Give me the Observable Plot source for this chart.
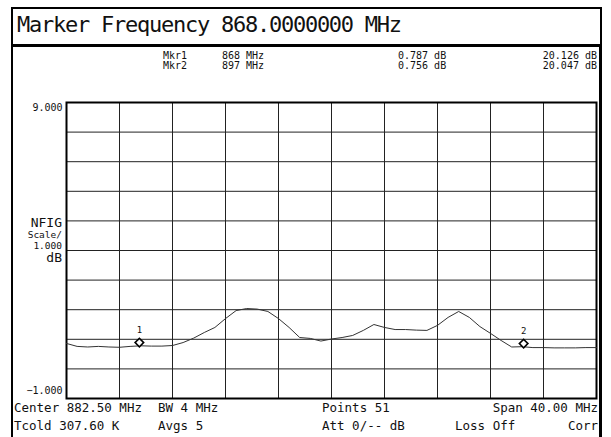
<!DOCTYPE html>
<html>
<head>
<meta charset="utf-8">
<script src="https://cdn.jsdelivr.net/npm/d3@7"></script>
<script src="https://cdn.jsdelivr.net/npm/@observablehq/plot@0.6"></script>
<style>
  body { margin: 0; background: #fff; }
  #wrap { position: relative; width: 611px; height: 437px; overflow: hidden; font-family: "DejaVu Sans Mono", monospace; color: #111; }
  #wrap svg { position: absolute; left: 0; top: 0; }
  .t { position: absolute; white-space: pre; line-height: 1; }
  .box { position: absolute; box-sizing: border-box; }
</style>
</head>
<body>
<div id="wrap"></div>
<script>
// Sweep frequencies (MHz), 51 points, center 882.50 MHz, span 40 MHz
const freqs = [862.5, 863.3, 864.1, 864.9, 865.7, 866.5, 867.3, 868.1, 868.9, 869.7,
  870.5, 871.3, 872.1, 872.9, 873.7, 874.5, 875.3, 876.1, 876.9, 877.7,
  878.5, 879.3, 880.1, 880.9, 881.7, 882.5, 883.3, 884.1, 884.9, 885.7,
  886.5, 887.3, 888.1, 888.9, 889.7, 890.5, 891.3, 892.1, 892.9, 893.7,
  894.5, 895.3, 896.1, 896.9, 897.7, 898.5, 899.3, 900.1, 900.9, 901.7, 902.5];
// Noise figure trace (dB)
const nfig = [0.86, 0.76, 0.74, 0.76, 0.74, 0.73, 0.76, 0.78, 0.77, 0.77,
  0.79, 0.89, 1.04, 1.23, 1.40, 1.70, 1.97, 2.04, 2.02, 1.94,
  1.70, 1.40, 1.06, 1.03, 0.94, 1.01, 1.06, 1.13, 1.30, 1.50,
  1.40, 1.33, 1.33, 1.31, 1.30, 1.47, 1.74, 1.94, 1.74, 1.43,
  1.20, 0.96, 0.74, 0.75, 0.72, 0.72, 0.71, 0.71, 0.71, 0.72, 0.72];
// Markers
const markerNames = ["1", "2"];
const markerFreqs = [868, 897];
const markerNF = [0.787, 0.756];
const markerGain = [20.126, 20.047];
// Axis
const xDomain = [862.5, 902.5];
const yDomain = [-1, 9];
const xGridTicks = [862.5, 866.5, 870.5, 874.5, 878.5, 882.5, 886.5, 890.5, 894.5, 898.5, 902.5];
const yGridTicks = [-1, 0, 1, 2, 3, 4, 5, 6, 7, 8, 9];

const trace = freqs.map((f, i) => ({f, v: nfig[i]}));
const markers = markerNames.map((n, i) => ({n, f: markerFreqs[i], v: markerNF[i]}));

const chart = Plot.plot({
  width: 611,
  height: 437,
  marginLeft: 66,
  marginRight: 15,
  marginTop: 102,
  marginBottom: 39,
  x: {domain: xDomain, axis: null},
  y: {domain: yDomain, axis: null},
  style: {background: "transparent", fontFamily: "DejaVu Sans Mono"},
  marks: [
    Plot.ruleX(xGridTicks, {stroke: "#222", strokeWidth: 1}),
    Plot.ruleY(yGridTicks, {stroke: "#222", strokeWidth: 1}),
    Plot.frame({stroke: "#000", strokeWidth: 2}),
    Plot.line(trace, {x: "f", y: "v", stroke: "#333", strokeWidth: 1}),
    Plot.dot(markers, {x: "f", y: "v", symbol: "square", rotate: 45, r: 3.4, stroke: "#000", fill: "#fff", strokeWidth: 1.6, dy: -3}),
    Plot.text(markers, {x: "f", y: "v", text: "n", dy: -15, fontSize: 9, fill: "#111"}),
    Plot.text([yDomain[1]], {y: d => d, frameAnchor: "left", text: d => d3.format(".3f")(d), textAnchor: "end", dx: -4, dy: 5, fontSize: 10, fill: "#111"}),
    Plot.text([yDomain[0]], {y: d => d, frameAnchor: "left", text: d => d3.format(".3f")(d), textAnchor: "end", dx: -4, dy: -8, fontSize: 10, fill: "#111"})
  ]
});

const wrap = document.getElementById("wrap");
wrap.appendChild(chart);

function box(l, t, w, h, css) {
  const d = document.createElement("div");
  d.className = "box";
  Object.assign(d.style, {left: l + "px", top: t + "px", width: w + "px", height: h + "px"}, css);
  wrap.appendChild(d);
}
function txt(s, css) {
  const d = document.createElement("div");
  d.className = "t";
  d.textContent = s;
  Object.assign(d.style, css);
  wrap.appendChild(d);
}

// frames
box(11, 7, 591, 40, {border: "2px solid #000", borderBottom: "3px solid #000"});
box(11, 46, 591, 400, {borderLeft: "2px solid #000", borderRight: "3px solid #000"});

// title
txt("Marker Frequency " + d3.format(".7f")(markerFreqs[0]) + " MHz", {left: "17px", top: "14px", fontSize: "22px", letterSpacing: "-1.25px"});

// marker readouts
const fs = {fontSize: "10px"};
markerNames.forEach((n, i) => {
  const top = (51 + i * 10) + "px";
  txt("Mkr" + n, {...fs, left: "163px", top});
  txt(markerFreqs[i] + " MHz", {...fs, left: "222px", top});
  txt(d3.format(".3f")(markerNF[i]) + " dB", {...fs, left: "398px", top});
  txt(d3.format(".3f")(markerGain[i]) + " dB", {...fs, right: "14px", top});
});

// scale label
const slLines = [["NFIG", 13, 216], ["Scale/", 9.5, 230], ["1.000", 9.5, 241], ["dB", 13, 251]];
slLines.forEach(([s, size, top]) => {
  txt(s, {fontSize: size + "px", right: (611 - 62) + "px", top: top + "px", textAlign: "right"});
});

// bottom annotations
const bs = {fontSize: "12.5px"};
txt("Center 882.50 MHz", {...bs, left: "14px", top: "402px"});
txt("BW 4 MHz", {...bs, left: "158px", top: "402px"});
txt("Points " + freqs.length, {...bs, left: "322px", top: "402px"});
txt("Span 40.00 MHz", {...bs, right: "13px", top: "402px"});
txt("Tcold 307.60 K", {...bs, left: "14px", top: "420px"});
txt("Avgs 5", {...bs, left: "158px", top: "420px"});
txt("Att 0/-- dB", {...bs, left: "322px", top: "420px"});
txt("Loss Off", {...bs, left: "455px", top: "420px"});
txt("Corr", {...bs, right: "13px", top: "420px"});
</script>
</body>
</html>
